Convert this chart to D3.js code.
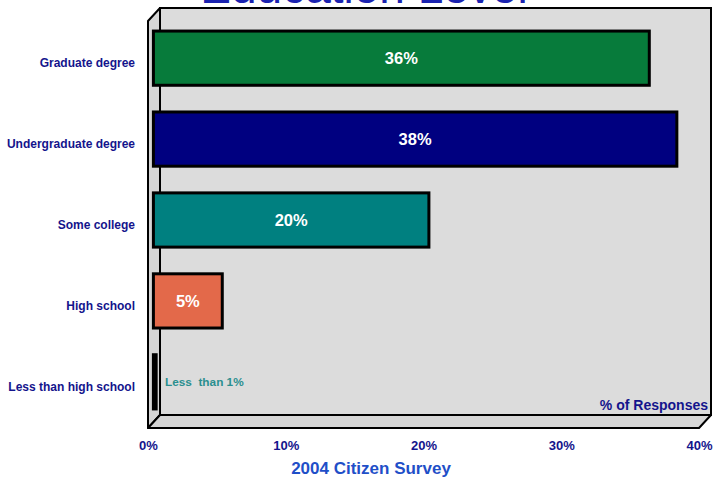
<!DOCTYPE html>
<html><head><meta charset="utf-8">
<script src="https://cdn.jsdelivr.net/npm/d3@7"></script>
<style>body{margin:0;background:#fff}svg{display:block}</style>
</head><body>
<svg id="c" width="713" height="479"></svg>
<script>
const categories = ["Graduate degree","Undergraduate degree","Some college","High school","Less than high school"];
const values = [36, 38, 20, 5, 0.2];
const barLabels = ["36%","38%","20%","5%",""];
const colors = ["#077b3b","#000080","#008080","#e3694a","#000000"];
const tickValues = [0,10,20,30,40];
const tickLabels = ["0%","10%","20%","30%","40%"];

const svg = d3.select("#c");
const font = "Arial, 'Liberation Sans', sans-serif";
const navy = "#14148c";

// scales
const x = d3.scaleLinear().domain([0,40]).range([148,699]);
const depthX = 12, depthY = 13;
const floorY = 428, topY = 21;
const y = d3.scaleBand().domain(categories).range([topY, floorY]).paddingInner(0.33).paddingOuter(0.18);

// Title (clipped at top, as in the reference)
svg.append("text").attr("x",364).attr("y",3).attr("text-anchor","middle")
  .attr("font-family",font).attr("font-size",46).attr("fill","#1a22b0").text("Education Level");

const g = svg.append("g");
// back wall
g.append("rect").attr("x",x(0)+depthX).attr("y",topY-depthY)
  .attr("width",x(40)-x(0)).attr("height",floorY-topY)
  .attr("fill","#dcdcdc").attr("stroke","#000").attr("stroke-width",2);
// left wall
g.append("polygon").attr("points",[[x(0),floorY],[x(0),topY],[x(0)+depthX,topY-depthY],[x(0)+depthX,floorY-depthY]].join(" "))
  .attr("fill","#d6d6d6").attr("stroke","#000").attr("stroke-width",2).attr("stroke-linejoin","round");
// floor
g.append("polygon").attr("points",[[x(0),floorY],[x(40),floorY],[x(40)+depthX,floorY-depthY],[x(0)+depthX,floorY-depthY]].join(" "))
  .attr("fill","#d6d6d6").attr("stroke","#000").attr("stroke-width",2).attr("stroke-linejoin","round");

// bars (at middle depth)
const bx = v => x(v) + depthX*0.45;
const by = c => y(c) - depthY*0.5 + 2;
const bars = g.selectAll(".bar").data(categories).enter();
bars.append("rect")
  .attr("x", (d,i)=>bx(0))
  .attr("y", d=>by(d))
  .attr("width", (d,i)=>bx(values[i])-bx(0))
  .attr("height", y.bandwidth())
  .attr("fill",(d,i)=>colors[i])
  .attr("stroke","#000").attr("stroke-width",3);

bars.append("text")
  .attr("x",(d,i)=>(bx(0)+bx(values[i]))/2)
  .attr("y",d=>by(d)+y.bandwidth()/2+6)
  .attr("text-anchor","middle").attr("font-family",font).attr("font-weight","bold")
  .attr("font-size",16.5).attr("fill","#fff").text((d,i)=>barLabels[i]);

// category labels
svg.selectAll(".cat").data(categories).enter().append("text")
  .attr("x",135).attr("y",d=>y(d)+y.bandwidth()/2+4.5)
  .attr("text-anchor","end").attr("font-family",font).attr("font-weight","bold")
  .attr("font-size",12).attr("fill",navy).text(d=>d);

// less than 1% note
svg.append("text").attr("x",165).attr("y",by(categories[4])+y.bandwidth()/2+4)
  .attr("font-family",font).attr("font-weight","bold").attr("font-size",11.8)
  .attr("fill","#2a8f8f").attr("xml:space","preserve").text("Less  than 1%");

// x axis
const axis = d3.axisBottom(x).tickValues(tickValues).tickFormat((d,i)=>tickLabels[i]).tickSize(0).tickPadding(0);
const ax = svg.append("g").attr("transform",`translate(0,${floorY+4})`).call(axis);
ax.select(".domain").remove();
ax.selectAll("text").attr("dy","0").attr("y",18).attr("font-family",font).attr("font-weight","bold")
  .attr("font-size",13).attr("fill",navy);

// % of Responses
svg.append("text").attr("x",708).attr("y",410).attr("text-anchor","end")
  .attr("font-family",font).attr("font-weight","bold").attr("font-size",14).attr("fill",navy).text("% of Responses");

// axis title
svg.append("text").attr("x",371).attr("y",474).attr("text-anchor","middle")
  .attr("font-family",font).attr("font-weight","bold").attr("font-size",17).attr("fill","#1f4fc8").text("2004 Citizen Survey");
</script>
</body></html>
